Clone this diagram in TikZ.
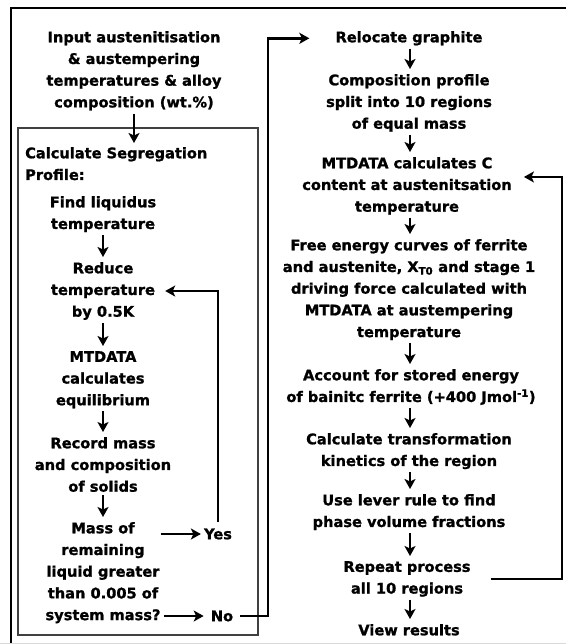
\documentclass[tikz,border=0pt]{standalone}
\usepackage{fontspec}
\setmainfont{DejaVu Sans}[BoldFeatures={FakeBold=1.2}]
\usepackage{tikz}
\usetikzlibrary{arrows.meta}

\begin{document}
\begin{tikzpicture}[x=1pt, y=-1pt, >={Stealth[length=10pt, width=11pt, inset=2.5pt]},
      font=\fontsize{14.6}{21.7}\selectfont\bfseries,
      txt/.style={align=center, inner sep=0pt, anchor=north},
      ans/.style={inner sep=0pt},
      arr/.style={->, line width=2pt, shorten <=3pt, shorten >=5pt},
      link/.style={->, line width=2.5pt},
      frame/.style={line width=2.6pt}]
    \useasboundingbox (0,0) rectangle (566,644);
    % outer frame
    \draw[frame] (566,8) -| (11,644);
    \draw[black!15, line width=1pt] (0,643.5) -- (566,643.5);
    % segregation profile box
    \draw[line width=1.4pt, black!75] (18,128) rectangle (258,635);
    % input
    \node[txt] (inp) at (134,31) {Input austenitisation\\ \& austempering\hspace*{22pt}\\ temperatures \& alloy\\ composition (wt.\%)};
    \node[txt, anchor=north west, align=left] (seg) at (25,147) {Calculate Segregation\\ Profile:};
    \draw[arr, shorten >=4pt] (inp.south) -- (inp.south |- seg.north);
    % segregation loop
    \node[txt] (liq)  at (103,196) {Find liquidus\\ temperature};
    \node[txt] (red)  at (103,262) {Reduce\\ temperature\\ by 0.5K};
    \node[txt] (equ)  at (103,351) {MTDATA\\ calculates\\ equilibrium};
    \node[txt] (rec)  at (103,437) {Record mass\\ and composition\\ of solids};
    \node[txt] (mass) at (103,522) {Mass of\\ remaining\\ liquid greater\\ than 0.005 of\\ system mass?};
    \foreach \x/\y in {liq/red, red/equ, equ/rec, rec/mass} \draw[arr] (\x) -- (\y);
    \node[ans] (yes) at (218,534) {Yes};
    \node[ans] (no)  at (222,616) {No};
    \draw[->, line width=2pt, shorten >=3pt] (mass.east |- yes.west) -- (yes.west);
    \draw[->, line width=2pt, shorten <=3pt, shorten >=7pt] (mass.east |- no.west) -- (no.west);
    \draw[link, shorten <=6pt, shorten >=10pt] (yes.north) |- (red.east);
    % right column
    \node[txt] (reloc) at (409,31)  {Relocate graphite};
    \node[txt] (split) at (409,74)  {Composition profile\\ split into 10 regions\\ of equal mass};
    \node[txt] (ccont) at (407,157) {MTDATA calculates C\\ content at austenitsation\\ temperature};
    \node[txt] (fe)    at (409,239) {Free energy curves of ferrite\\ and austenite, X\textsubscript{T0} and stage 1\\ driving force calculated with\\ MTDATA at austempering\\ temperature};
    \node[txt] (stor)  at (411,369) {Account for stored energy\\ of bainitc ferrite (+400 Jmol\textsuperscript{-1})};
    \node[txt] (kin)   at (409,433) {Calculate transformation\\ kinetics of the region};
    \node[txt] (lever) at (409,494) {Use lever rule to find\\ phase volume fractions};
    \node[txt] (rep)   at (407,561) {Repeat process\\ all 10 regions};
    \node[txt] (view)  at (409,624) {View results};
    \foreach \x/\y in {reloc/split, split/ccont, ccont/fe, fe/stor, stor/kin, kin/lever, lever/rep, rep/view}
      \draw[arr] (\x.south -| 410,0) -- (\y.north -| 410,0);
    % connectors between the columns
    \coordinate (nobus) at (268,37);
    \coordinate (rbus) at (562,0);
    \draw[link, shorten <=7pt, shorten >=26pt] (no.east) -| (nobus |- reloc.west) -- (reloc.west);
    \draw[link, shorten <=20pt, shorten >=12pt] (rep.east) -- (rep.east -| rbus) |- ([yshift=9pt]ccont.east);
  \end{tikzpicture}
\end{document}
